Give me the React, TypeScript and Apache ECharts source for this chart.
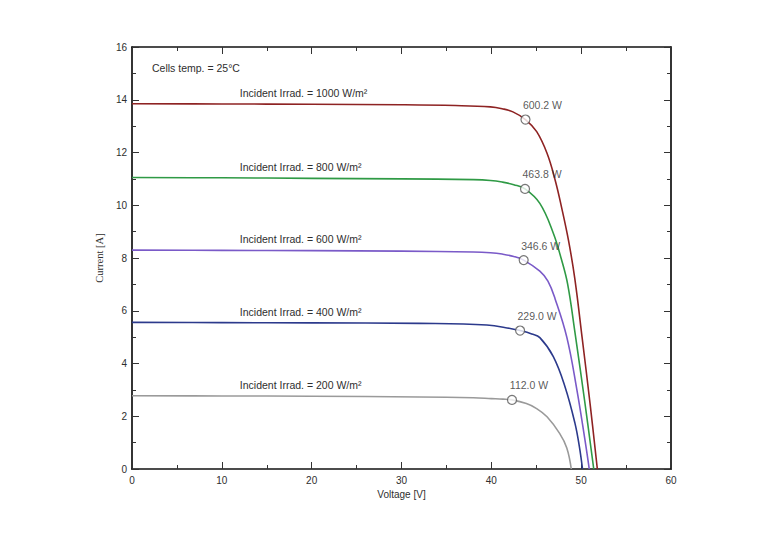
import React, { useEffect, useRef } from "react";
import * as echarts from "echarts";

// I–V characteristics of a PV module at 25 °C for five irradiance levels
const irradiance = [1000, 800, 600, 400, 200];
const curveColors = ["#8e2323", "#2f9a45", "#7a5ac8", "#2c3a8c", "#9a9a9a"];

const v1000 = [0, 10, 20, 30, 36, 39.9, 41.2, 42.4, 43.8, 45.05, 46.2, 47.1, 47.8, 48.6, 49.3, 50.1, 51.0, 51.8];
const i1000 = [13.85, 13.84, 13.83, 13.81, 13.78, 13.73, 13.66, 13.54, 13.25, 12.79, 11.97, 10.96, 9.95, 8.65, 7.2, 5.0, 2.45, 0];

const v800 = [0, 10, 20, 30, 38, 39.9, 41.2, 42.5, 43.75, 45.4, 46.9, 47.8, 48.5, 49.3, 50.4, 51.4];
const i800 = [11.05, 11.04, 11.02, 11.0, 10.97, 10.94, 10.88, 10.78, 10.62, 10.07, 8.94, 7.95, 7.0, 5.2, 2.55, 0];

const v600 = [0, 10, 20, 30, 38, 39.9, 41.2, 42.5, 43.6, 45.4, 46.3, 47.1, 48.4, 49.5, 50.4, 50.9];
const i600 = [8.3, 8.29, 8.28, 8.26, 8.23, 8.2, 8.15, 8.06, 7.92, 7.5, 7.12, 6.45, 5.0, 3.05, 1.15, 0];

const v400 = [0, 10, 20, 32, 39.5, 42.1, 43.2, 44.5, 45.4, 46.9, 48.2, 49.3, 49.8, 50.15];
const i400 = [5.56, 5.55, 5.54, 5.52, 5.46, 5.33, 5.25, 5.12, 4.98, 4.26, 3.12, 1.75, 0.85, 0];

const v200 = [0, 10, 20, 32, 38, 40, 41.3, 42.3, 43.9, 45.0, 46.2, 47.6, 48.4, 48.9];
const i200 = [2.78, 2.77, 2.76, 2.73, 2.7, 2.67, 2.65, 2.62, 2.48, 2.3, 1.98, 1.35, 0.8, 0];

const voltages = [v1000, v800, v600, v400, v200];
const currents = [i1000, i800, i600, i400, i200];

// maximum power points
const mppV = [43.8, 43.75, 43.6, 43.2, 42.3];
const mppI = [13.25, 10.62, 7.92, 5.25, 2.62];
const mppW = [600.2, 463.8, 346.6, 229.0, 112.0];

const xTicks = { min: 0, max: 60, interval: 10 };
const yTicks = { min: 0, max: 16, interval: 2 };

const FONT = "Liberation Sans, Arial, sans-serif";
const TEXT = "#2e2e2e";

const frameLine = () => ({ show: true, onZero: false, lineStyle: { color: "#111", width: 1.7 } });
const tick = () => ({ show: true, inside: true, length: 7, lineStyle: { color: "#333", width: 1 } });
const minor = () => ({ show: true, splitNumber: 2, length: 4, lineStyle: { color: "#333", width: 1 } });

export default function App() {
  const ref = useRef<HTMLDivElement>(null);

  useEffect(() => {
    if (!ref.current) return;
    const chart = echarts.init(ref.current, null, { renderer: "svg" });

    const lineSeries = irradiance.map((irr, k) => ({
      type: "line",
      name: `${irr} W/m²`,
      data: voltages[k].map((v, j) => [v, currents[k][j]]),
      smooth: 0.4,
      showSymbol: false,
      symbol: "none",
      lineStyle: { color: curveColors[k], width: 1.6 },
      z: 2,
      markPoint: {
        symbol: "circle",
        symbolSize: 0,
        data: [
          {
            coord: [12, currents[k][1]],
            label: {
              show: true,
              position: "right",
              distance: 0,
              offset: [0, -11],
              formatter: `Incident Irrad. = ${irr} W/m²`,
              fontFamily: FONT,
              fontSize: 10.5,
              color: TEXT,
            },
          },
        ],
      },
    }));

    chart.setOption({
      animation: false,
      backgroundColor: "#ffffff",
      grid: { left: 132, right: 97, top: 47, bottom: 64 },
      xAxis: [
        {
          type: "value",
          ...xTicks,
          position: "bottom",
          name: "Voltage [V]",
          nameLocation: "middle",
          nameGap: 20,
          nameTextStyle: { fontFamily: FONT, fontSize: 10, color: TEXT },
          axisLine: frameLine(),
          axisTick: tick(),
          minorTick: minor(),
          splitLine: { show: false },
          axisLabel: { fontFamily: FONT, fontSize: 10, color: TEXT, margin: 6 },
        },
        {
          type: "value",
          ...xTicks,
          position: "top",
          axisLine: frameLine(),
          axisTick: tick(),
          minorTick: minor(),
          splitLine: { show: false },
          axisLabel: { show: false },
        },
      ],
      yAxis: [
        {
          type: "value",
          ...yTicks,
          position: "left",
          name: "Current [A]",
          nameLocation: "middle",
          nameGap: 27,
          nameTextStyle: { fontFamily: "Liberation Serif, Times New Roman, serif", fontSize: 10.5, color: TEXT },
          axisLine: frameLine(),
          axisTick: tick(),
          minorTick: minor(),
          splitLine: { show: false },
          axisLabel: { fontFamily: FONT, fontSize: 10, color: TEXT, margin: 5 },
        },
        {
          type: "value",
          ...yTicks,
          position: "right",
          axisLine: frameLine(),
          axisTick: tick(),
          minorTick: minor(),
          splitLine: { show: false },
          axisLabel: { show: false },
        },
      ],
      graphic: [
        {
          type: "text",
          left: 152,
          top: 62,
          style: { text: "Cells temp. = 25°C", fontFamily: FONT, fontSize: 10.5, fill: TEXT },
        },
      ],
      series: [
        ...lineSeries,
        {
          type: "scatter",
          name: "Pmax",
          data: mppV.map((v, k) => [v, mppI[k], mppW[k]]),
          symbol: "circle",
          symbolSize: 9,
          itemStyle: { color: "#ffffff", borderColor: "#555555", borderWidth: 1.2 },
          z: 5,
          label: {
            show: true,
            position: "top",
            distance: 4,
            offset: [17, 0],
            formatter: (p: any) => `${p.value[2].toFixed(1)} W`,
            fontFamily: FONT,
            fontSize: 10.5,
            color: TEXT,
          },
        },
      ],
    });

    return () => chart.dispose();
  }, []);

  return (
    <div
      ref={ref}
      style={{ position: "fixed", left: 0, top: 0, width: 768, height: 533, background: "#fff" }}
    />
  );
}
